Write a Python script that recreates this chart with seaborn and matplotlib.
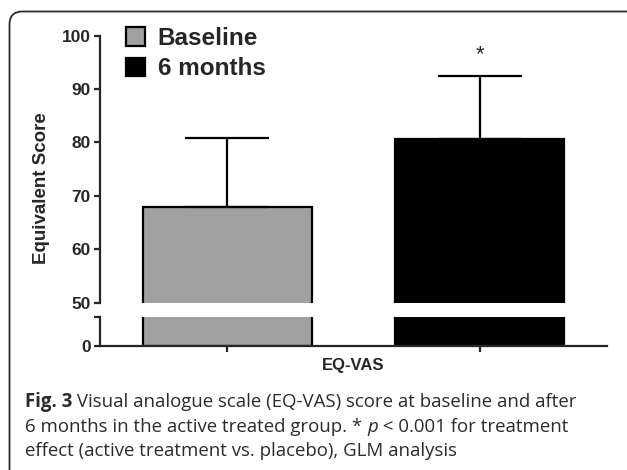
import numpy as np
import pandas as pd
import matplotlib
matplotlib.use("Agg")
import matplotlib.pyplot as plt
from matplotlib.patches import Patch, FancyBboxPatch
import seaborn as sns

sns.set_style("ticks")
plt.rcParams["font.family"] = ["Liberation Sans", "DejaVu Sans"]

# ------------------------------------------------------------------
# DATA
# ------------------------------------------------------------------
groups = ["Baseline", "6 months"]
means  = [68.0, 80.6]
sds    = [12.9, 11.9]
bar_colors = ["#a0a0a0", "#000000"]
upper_ticks = [50, 60, 70, 80, 90, 100]
lower_top = 5.4
caption = [
    ("Fig. 3", " Visual analogue scale (EQ-VAS) score at baseline and after"),
    ("6 months in the active treated group. * ", "p", " < 0.001 for treatment"),
    ("effect (active treatment vs. placebo), GLM analysis",),
]

df = pd.DataFrame({"group": groups, "mean": means, "sd": sds})

W, H = 627, 470
fig = plt.figure(figsize=(W / 100, H / 100), dpi=100)

# background overlay in pixel coords (frame + caption)
bg = fig.add_axes([0, 0, 1, 1], zorder=-1)
bg.set_xlim(0, W)
bg.set_ylim(H, 0)
bg.axis("off")
bg.add_patch(FancyBboxPatch((9.5, 11.5), 700, 500,
                            boxstyle="round,pad=0,rounding_size=13",
                            fill=False, edgecolor="#2a2a2a", linewidth=1.3))

def px_box(x0, y_top, x1, y_bot):
    return [x0 / W, 1 - y_bot / H, (x1 - x0) / W, (y_bot - y_top) / H]

ax_top = fig.add_axes(px_box(100, 35.5, 607, 303))
ax_bot = fig.add_axes(px_box(100, 317, 607, 346))

lw = 1.6
for ax in (ax_top, ax_bot):
    sns.barplot(data=df, x="group", y="mean", hue="group", palette=bar_colors,
                width=0.67, edgecolor="black", linewidth=lw, errorbar=None,
                legend=False, ax=ax)
    ax.errorbar(np.arange(len(groups)), df["mean"],
                yerr=[np.zeros(len(groups)), df["sd"]], fmt="none",
                ecolor="black", elinewidth=lw, capsize=30, capthick=lw, zorder=1)
    ax.set_xlim(-0.505, 1.505)
    ax.set_ylabel("")
    ax.set_xlabel("")
    sns.despine(ax=ax)
    for s in ax.spines.values():
        s.set_linewidth(lw)
    ax.tick_params(width=lw, length=4, pad=2.5, labelsize=12.5)

ax_top.set_ylim(50, 100)
ax_top.set_yticks(upper_ticks)
ax_top.set_yticklabels([str(v) for v in upper_ticks], fontweight="bold")
ax_top.spines["bottom"].set_visible(False)
ax_top.set_xticks([])

ax_bot.set_ylim(0, lower_top)
ax_bot.set_yticks([0, lower_top])
ax_bot.set_yticklabels(["0", ""], fontweight="bold")
ax_bot.set_xticks([0, 1])
ax_bot.set_xticklabels([])
ax_bot.set_xlabel("EQ-VAS", fontsize=12, fontweight="bold", labelpad=2)

# significance marker
ax_top.text(1, df["sd"][1] + df["mean"][1] + 2.0, "*", ha="center", va="bottom",
            fontsize=16)

fig.text(42 / W, 1 - 188.5 / H, "Equivalent Score", rotation=90, ha="center",
         va="center", fontsize=13.5, fontweight="bold")

# legend
handles = [Patch(facecolor=c, edgecolor="black", linewidth=lw, label=g)
           for g, c in zip(groups, bar_colors)]
leg = fig.legend(handles=handles, loc="upper left",
                 bbox_to_anchor=(126 / W, 1 - 27 / H), frameon=False,
                 fontsize=17.5, handlelength=0.8, handleheight=0.8,
                 handletextpad=0.5, labelspacing=0.3, borderpad=0,
                 borderaxespad=0)
for t in leg.get_texts():
    t.set_fontweight("bold")

# caption (mixed bold / italic)
renderer = fig.canvas.get_renderer()
cap_kw = dict(fontsize=13.4, family=["Open Sans", "DejaVu Sans"], color="#2b2b2b",
              va="baseline", ha="left")
baselines = [407, 431.5, 456]
styles = [[{"fontweight": "bold"}, {}],
          [{}, {"style": "italic"}, {}],
          [{}]]
inv = bg.transData.inverted()
for parts, yb, st in zip(caption, baselines, styles):
    x = 25
    for txt, extra in zip(parts, st):
        t = bg.text(x, yb, txt, **cap_kw, **extra)
        bb = t.get_window_extent(renderer=renderer)
        x = inv.transform((bb.x1, bb.y0))[0]

fig.savefig("out.png", dpi=100)
